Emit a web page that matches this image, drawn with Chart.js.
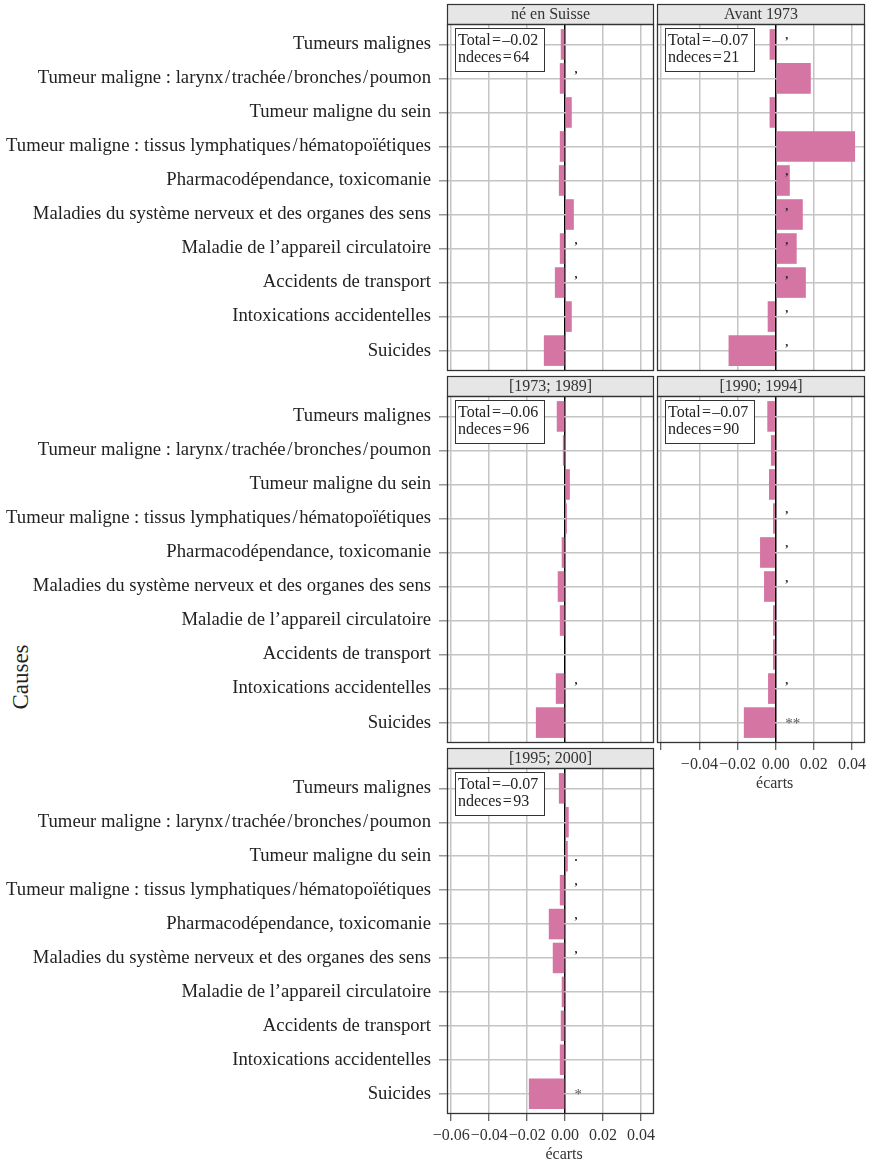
<!DOCTYPE html>
<html><head><meta charset="utf-8">
<script src="https://cdn.jsdelivr.net/npm/chart.js@4.4.1/dist/chart.umd.min.js"></script>
<style>
html,body{margin:0;padding:0;background:#fff;}
body{width:872px;height:1163px;position:relative;overflow:hidden;font-family:'Liberation Serif',serif;}
canvas{position:absolute;}
#ylab{position:absolute;left:21px;top:677px;transform:translate(-50%,-50%) rotate(-90deg);font-size:23px;color:#222;white-space:nowrap;}
</style></head><body>
<div id="ylab">Causes</div>
<script>
// ---- data ----
const causes = [
  'Tumeurs malignes',
  'Tumeur maligne : larynx\u200A/\u200Atrachée\u200A/\u200Abronches\u200A/\u200Apoumon',
  'Tumeur maligne du sein',
  'Tumeur maligne : tissus lymphatiques\u200A/\u200Ahématopoïétiques',
  'Pharmacodépendance, toxicomanie',
  'Maladies du système nerveux et des organes des sens',
  'Maladie de l’appareil circulatoire',
  'Accidents de transport',
  'Intoxications accidentelles',
  'Suicides'
];
const panelTitles = ['né en Suisse', 'Avant 1973', '[1973; 1989]', '[1990; 1994]', '[1995; 2000]'];
const ecartsNeEnSuisse = [-0.0023, -0.0028, 0.0035, -0.0028, -0.0033, 0.0046, -0.0028, -0.0054, 0.0035, -0.0112];
const ecartsAvant1973  = [-0.0032, 0.0184, -0.0032, 0.0416, 0.0074, 0.0142, 0.0110, 0.0158, -0.0042, -0.0247];
const ecarts1973_1989  = [-0.0044, -0.0012, 0.0025, 0.0009, -0.0018, -0.0039, -0.0028, 0.0003, -0.0049, -0.0154];
const ecarts1990_1994  = [-0.0044, -0.0025, -0.0035, -0.0014, -0.0082, -0.0061, -0.0014, -0.0014, -0.0040, -0.0167];
const ecarts1995_2000  = [-0.0033, 0.0019, 0.0014, -0.0028, -0.0086, -0.0065, -0.0018, -0.0023, -0.0028, -0.0191];
const totals = ['–0.02', '–0.07', '–0.06', '–0.07', '–0.07'];
const ndeces = [64, 21, 96, 90, 93];
const marksNeEnSuisse = ['', ',', '', '', '', '', ',', ',', '', ''];
const marksAvant1973  = [',', '', '', '', ',', ',', ',', ',', ',', ','];
const marks1973_1989  = ['', '', '', '', '', '', '', '', ',', ''];
const marks1990_1994  = ['', '', '', ',', ',', ',', '', '', ',', '**'];
const marks1995_2000  = ['', '', '.', ',', ',', ',', '', '', '', '*'];
const xTicks = [-0.06, -0.04, -0.02, 0, 0.02, 0.04];
const xTitle = 'écarts';
const xMin = -0.0622, xMax = 0.0468;
const markPos = 0.005;

// ---- styles ----
const barColor = '#D575A3';
const gridColor = '#c4c4c4';
const FONT = "'Liberation Serif', 'Times New Roman', serif";

function fmt(v) {
  const s = Math.abs(v).toFixed(2);
  return v < 0 ? '\u2212' + s : s;
}

function makePanelPlugin(p) {
  return {
    id: 'panelDeco',
    afterDraw(chart) {
      const ctx = chart.ctx, a = chart.chartArea;
      const xs = chart.scales.x, ys = chart.scales.y;
      ctx.save();
      // strip
      const sh = 20;
      ctx.fillStyle = '#e6e6e6';
      ctx.fillRect(a.left, a.top - sh, a.right - a.left, sh);
      ctx.strokeStyle = '#333';
      ctx.lineWidth = 1.2;
      ctx.strokeRect(a.left + 0.5, a.top - sh + 0.5, a.right - a.left - 1, sh);
      ctx.fillStyle = '#333';
      ctx.font = '16px ' + FONT;
      ctx.textAlign = 'center';
      ctx.textBaseline = 'middle';
      ctx.fillText(p.title, (a.left + a.right) / 2, a.top - sh / 2 + 1);
      // frame
      ctx.strokeStyle = '#333';
      ctx.lineWidth = 1.3;
      ctx.strokeRect(a.left + 0.5, a.top + 0.5, a.right - a.left - 1, a.bottom - a.top - 1);
      // annotation box
      const bx = a.left + 8, by = a.top + 4, bw = 89, bh = 43;
      ctx.fillStyle = '#fff';
      ctx.fillRect(bx, by, bw, bh);
      ctx.strokeStyle = '#333';
      ctx.lineWidth = 1;
      ctx.strokeRect(bx + 0.5, by + 0.5, bw, bh);
      ctx.fillStyle = '#222';
      ctx.font = '16px ' + FONT;
      ctx.textAlign = 'left';
      ctx.textBaseline = 'middle';
      ctx.fillText('Total\u200A=\u200A' + p.total, bx + 3, by + 13);
      ctx.fillText('ndeces\u200A=\u200A' + p.n, bx + 3, by + 30);
      // x axis title, centred on the zero reference
      if (p.xAxis) {
        ctx.fillStyle = '#333';
        ctx.font = '16px ' + FONT;
        ctx.textAlign = 'center';
        ctx.textBaseline = 'middle';
        ctx.fillText(xTitle, xs.getPixelForValue(0) - 1, a.bottom + 41);
      }
      // significance marks
      const mx = xs.getPixelForValue(markPos);
      ctx.textAlign = 'left';
      ctx.textBaseline = 'alphabetic';
      p.marks.forEach((m, i) => {
        if (!m) return;
        const yc = ys.getPixelForValue(i + 1);
        if (m.indexOf('*') >= 0) {
          ctx.fillStyle = '#555';
          ctx.font = '15px ' + FONT;
          ctx.fillText(m, mx, yc + 5);
        } else if (m === '.') {
          ctx.fillStyle = '#222';
          ctx.font = 'bold 12px ' + FONT;
          ctx.fillText(m, mx, yc + 5);
        } else {
          ctx.fillStyle = '#222';
          ctx.font = 'bold 12px ' + FONT;
          ctx.fillText(m, mx, yc - 5);
        }
      });
      ctx.restore();
    }
  };
}

const panels = [
  { title: panelTitles[0], values: ecartsNeEnSuisse, marks: marksNeEnSuisse, total: totals[0], n: ndeces[0],
    left: 0, top: 0, w: 660, h: 373, padTop: 24, padBottom: 2, padLeft: 0, padRight: 6, yAxisW: 447, labels: true, xAxis: false, xAxisH: 0, skipFirst: false },
  { title: panelTitles[1], values: ecartsAvant1973, marks: marksAvant1973, total: totals[1], n: ndeces[1],
    left: 655, top: 0, w: 217, h: 373, padTop: 24, padBottom: 2, padLeft: 2, padRight: 7, yAxisW: 0, labels: false, xAxis: false, xAxisH: 0, skipFirst: false },
  { title: panelTitles[2], values: ecarts1973_1989, marks: marks1973_1989, total: totals[2], n: ndeces[2],
    left: 0, top: 372, w: 660, h: 373, padTop: 24, padBottom: 2, padLeft: 0, padRight: 6, yAxisW: 447, labels: true, xAxis: false, xAxisH: 0, skipFirst: false },
  { title: panelTitles[3], values: ecarts1990_1994, marks: marks1990_1994, total: totals[3], n: ndeces[3],
    left: 655, top: 372, w: 217, h: 419, padTop: 24, padBottom: 0, padLeft: 2, padRight: 7, yAxisW: 0, labels: false, xAxis: true, xAxisH: 48, skipFirst: true },
  { title: panelTitles[4], values: ecarts1995_2000, marks: marks1995_2000, total: totals[4], n: ndeces[4],
    left: 0, top: 743, w: 660, h: 420, padTop: 25, padBottom: 0, padLeft: 0, padRight: 6, yAxisW: 447, labels: true, xAxis: true, xAxisH: 49, skipFirst: false }
];

panels.forEach(p => {
  const cv = document.createElement('canvas');
  cv.width = p.w; cv.height = p.h;
  cv.style.left = p.left + 'px'; cv.style.top = p.top + 'px';
  cv.style.width = p.w + 'px'; cv.style.height = p.h + 'px';
  document.body.appendChild(cv);
  new Chart(cv, {
    type: 'bar',
    data: {
      datasets: [{
        data: p.values.map((v, i) => ({ x: v, y: i + 1 })),
        backgroundColor: barColor,
        borderWidth: 0,
        categoryPercentage: 0.9,
        barPercentage: 1.0
      }]
    },
    options: {
      responsive: false,
      animation: false,
      devicePixelRatio: 1,
      indexAxis: 'y',
      layout: { padding: { top: p.padTop, bottom: p.padBottom, left: p.padLeft, right: p.padRight } },
      plugins: { legend: { display: false }, tooltip: { enabled: false }, title: { display: false } },
      scales: {
        x: {
          type: 'linear', min: xMin, max: xMax,
          afterBuildTicks: s => { s.ticks = xTicks.map(v => ({ value: v })); },
          afterFit: s => { s.height = p.xAxisH; s.paddingLeft = 0; s.paddingRight = 0; },
          border: { display: false },
          grid: {
            color: c => (c.tick && c.tick.value === 0) ? '#000' : gridColor,
            lineWidth: 1.5,
            drawTicks: p.xAxis, tickLength: 7, tickColor: '#333', tickWidth: 1
          },
          ticks: {
            display: p.xAxis, autoSkip: false, maxRotation: 0, padding: 5,
            color: '#333', font: { family: FONT, size: 16 },
            callback: (v) => (p.skipFirst && v === xTicks[0]) ? '' : fmt(v)
          },
          title: { display: false }
        },
        y: {
          type: 'linear', min: 0.4, max: 10.6, reverse: true, offset: false,
          afterBuildTicks: s => { s.ticks = causes.map((c, i) => ({ value: i + 1 })); },
          afterFit: s => { s.width = p.yAxisW; s.paddingTop = 0; s.paddingBottom = 0; },
          border: { display: false },
          grid: { offset: false, color: gridColor, lineWidth: 1.5, drawTicks: p.labels, tickLength: 8, tickColor: '#999' },
          ticks: {
            display: p.labels, autoSkip: false, padding: 8,
            color: '#222', font: { family: FONT, size: 18.7 },
            callback: (v) => causes[Math.round(v) - 1]
          }
        }
      }
    },
    plugins: [makePanelPlugin(p)]
  });
});
</script>
</body></html>
